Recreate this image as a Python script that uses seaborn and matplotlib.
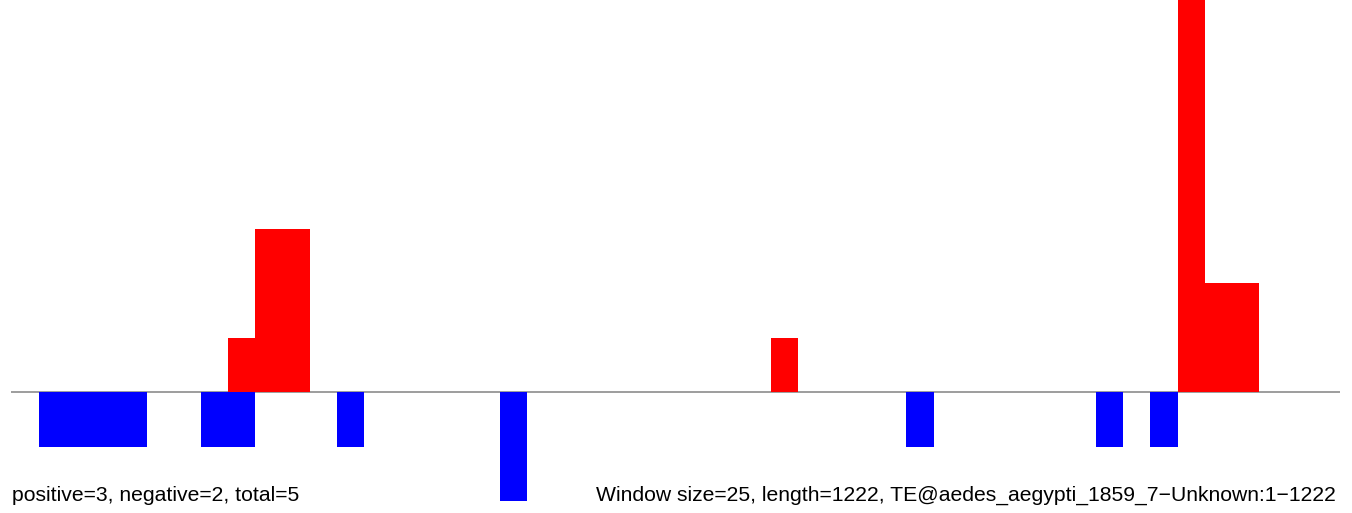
import pandas as pd
import matplotlib
matplotlib.use("Agg")
import matplotlib.pyplot as plt
import seaborn as sns

# --- dane: okna po 25 bp, dlugosc 1222 ---
WINDOW_SIZE = 25
SEQ_LENGTH = 1222
N_WINDOWS = 49

pos_windows = [8, 9, 10, 28, 43, 44, 45]
pos_counts = [1, 3, 3, 1, 8, 2, 2]
neg_windows = [1, 2, 3, 4, 7, 8, 12, 18, 33, 40, 42]
neg_counts = [1, 1, 1, 1, 1, 1, 1, 2, 1, 1, 1]

left_label = "positive=3, negative=2, total=5"
right_label = "Window size=25, length=1222, TE@aedes_aegypti_1859_7\u2212Unknown:1\u22121222"

windows = list(range(N_WINDOWS))
df = pd.DataFrame({"okno": windows})
df["plus"] = df["okno"].map(dict(zip(pos_windows, pos_counts))).fillna(0)
df["minus"] = -df["okno"].map(dict(zip(neg_windows, neg_counts))).fillna(0)

sns.set_theme(style="white")
plt.rcParams["font.family"] = ["Liberation Sans", "DejaVu Sans"]

fig = plt.figure(figsize=(13.52, 5.13), dpi=100)
ax = fig.add_axes([0, 0, 1, 1])

ax.hlines(0, -0.5, N_WINDOWS - 0.5, color="#8c8c8c", linewidth=1.2, zorder=1)

sns.barplot(data=df, x="okno", y="plus", order=windows, color="#ff0000",
            saturation=1, width=1, linewidth=0, errorbar=None, ax=ax, zorder=2)
sns.barplot(data=df, x="okno", y="minus", order=windows, color="#0000ff",
            saturation=1, width=1, linewidth=0, errorbar=None, ax=ax, zorder=2)

ax.set_xlim(-0.92, 48.93)
ax.set_ylim(-2.22, 7.2)
ax.axis("off")

fig.text(12 / 1352, 1 - 501 / 513, left_label, ha="left", va="baseline",
         fontsize=15.2, color="black")
fig.text(1336 / 1352, 1 - 501 / 513, right_label, ha="right", va="baseline",
         fontsize=15.2, color="black")

fig.savefig("out.png", dpi=100)
